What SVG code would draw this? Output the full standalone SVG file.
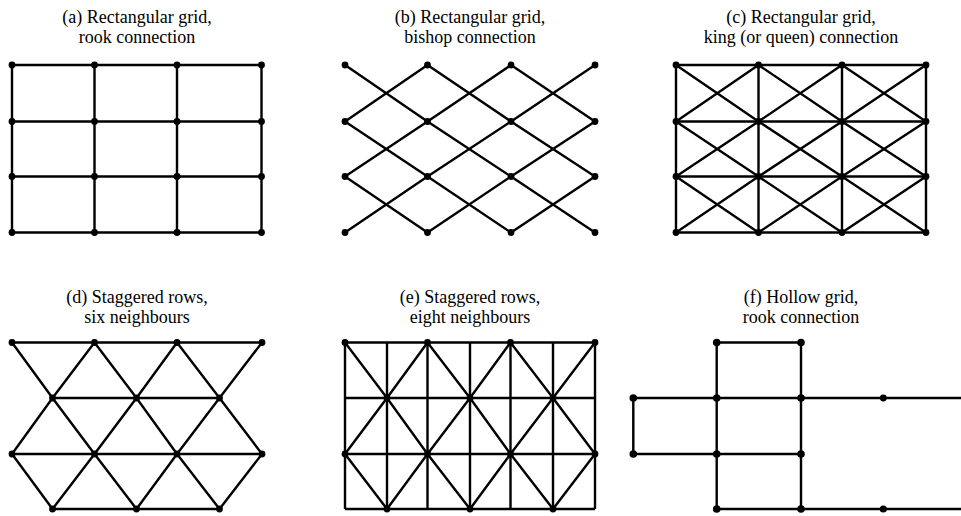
<svg xmlns="http://www.w3.org/2000/svg" width="961" height="516" viewBox="0 0 961 516">
<style>
.t{font-family:'Liberation Serif','Times New Roman',Times,serif;font-size:18px;fill:#000;text-anchor:middle}
.e{fill:none;stroke:#000;stroke-width:2.4;stroke-linejoin:round;stroke-linecap:butt}
.n{fill:#000}
</style>
<rect width="961" height="516" fill="#fff"/>

<!-- Titles -->
<g id="titles">
<text class="t" x="137" y="23">(a) Rectangular grid,</text>
<text class="t" x="137" y="43">rook connection</text>
<text class="t" x="470" y="23">(b) Rectangular grid,</text>
<text class="t" x="470" y="43">bishop connection</text>
<text class="t" x="801" y="23">(c) Rectangular grid,</text>
<text class="t" x="801" y="43">king (or queen) connection</text>
<text class="t" x="137" y="303">(d) Staggered rows,</text>
<text class="t" x="137" y="323">six neighbours</text>
<text class="t" x="470" y="303">(e) Staggered rows,</text>
<text class="t" x="470" y="323">eight neighbours</text>
<text class="t" x="801" y="303">(f) Hollow grid,</text>
<text class="t" x="801" y="323">rook connection</text>
</g>

<!-- Connectors -->
<g id="connectors">
<g id="edges-a">
<path class="e" d="M12 65H261.5M12 121.5H261.5M12 176.5H261.5M12 232.5H261.5"/>
<path class="e" d="M12 65V232.5M94.5 65V232.5M177 65V232.5M261.5 65V232.5"/>
</g>
<g id="edges-b">
<polyline class="e" points="345,65 427.5,121.5 511,176.5 595,232.5"/>
<polyline class="e" points="427.5,65 511,121.5 595,176.5"/>
<polyline class="e" points="511,65 595,121.5"/>
<polyline class="e" points="345,121.5 427.5,176.5 511,232.5"/>
<polyline class="e" points="345,176.5 427.5,232.5"/>
<polyline class="e" points="595,65 511,121.5 427.5,176.5 345,232.5"/>
<polyline class="e" points="511,65 427.5,121.5 345,176.5"/>
<polyline class="e" points="427.5,65 345,121.5"/>
<polyline class="e" points="595,121.5 511,176.5 427.5,232.5"/>
<polyline class="e" points="595,176.5 511,232.5"/>
</g>
<g id="edges-c">
<path class="e" d="M676 65H926M676 121.5H926M676 176.5H926M676 232.5H926"/>
<path class="e" d="M676 65V232.5M758.5 65V232.5M842 65V232.5M926 65V232.5"/>
<polyline class="e" points="676,65 758.5,121.5 842,176.5 926,232.5"/>
<polyline class="e" points="758.5,65 842,121.5 926,176.5"/>
<polyline class="e" points="842,65 926,121.5"/>
<polyline class="e" points="676,121.5 758.5,176.5 842,232.5"/>
<polyline class="e" points="676,176.5 758.5,232.5"/>
<polyline class="e" points="926,65 842,121.5 758.5,176.5 676,232.5"/>
<polyline class="e" points="842,65 758.5,121.5 676,176.5"/>
<polyline class="e" points="758.5,65 676,121.5"/>
<polyline class="e" points="926,121.5 842,176.5 758.5,232.5"/>
<polyline class="e" points="926,176.5 842,232.5"/>
</g>
<g id="edges-d">
<path class="e" d="M12 342.5H262M52.5 398H219.5M12 454H262M52.5 509H219.5"/>
<polyline class="e" points="12,342.5 52.5,398 94.5,454 136.5,509"/>
<polyline class="e" points="94.5,342.5 136.5,398 177,454 219.5,509"/>
<polyline class="e" points="177,342.5 219.5,398 262,454"/>
<polyline class="e" points="12,454 52.5,509"/>
<polyline class="e" points="262,342.5 219.5,398 177,454 136.5,509"/>
<polyline class="e" points="177,342.5 136.5,398 94.5,454 52.5,509"/>
<polyline class="e" points="94.5,342.5 52.5,398 12,454"/>
<polyline class="e" points="262,454 219.5,509"/>
</g>
<g id="edges-e">
<path class="e" d="M345 342.5H595M345 398H595M345 454H595M345 509H595"/>
<path class="e" d="M345 342.5V509M387 342.5V509M427.5 342.5V509M470 342.5V509M510.5 342.5V509M553 342.5V509M595 342.5V509"/>
<polyline class="e" points="345,342.5 387,398 427.5,454 470,509"/>
<polyline class="e" points="427.5,342.5 470,398 510.5,454 553,509"/>
<polyline class="e" points="510.5,342.5 553,398 595,454"/>
<polyline class="e" points="345,454 387,509"/>
<polyline class="e" points="595,342.5 553,398 510.5,454 470,509"/>
<polyline class="e" points="510.5,342.5 470,398 427.5,454 387,509"/>
<polyline class="e" points="427.5,342.5 387,398 345,454"/>
<polyline class="e" points="595,454 553,509"/>
</g>
<g id="edges-f">
<path class="e" d="M716.7 342.5H801M633.3 398H961M633.3 454H801M716.7 509H961"/>
<path class="e" d="M716.7 342.5V509M801 342.5V509M633.3 398V454"/>
</g>
</g>

<!-- Nodes -->
<g id="nodes-a">
<circle id="a00" class="n" cx="12" cy="65" r="3.4"/><circle id="a10" class="n" cx="94.5" cy="65" r="3.4"/><circle id="a20" class="n" cx="177" cy="65" r="3.4"/><circle id="a30" class="n" cx="261.5" cy="65" r="3.4"/>
<circle id="a01" class="n" cx="12" cy="121.5" r="3.4"/><circle id="a11" class="n" cx="94.5" cy="121.5" r="3.4"/><circle id="a21" class="n" cx="177" cy="121.5" r="3.4"/><circle id="a31" class="n" cx="261.5" cy="121.5" r="3.4"/>
<circle id="a02" class="n" cx="12" cy="176.5" r="3.4"/><circle id="a12" class="n" cx="94.5" cy="176.5" r="3.4"/><circle id="a22" class="n" cx="177" cy="176.5" r="3.4"/><circle id="a32" class="n" cx="261.5" cy="176.5" r="3.4"/>
<circle id="a03" class="n" cx="12" cy="232.5" r="3.4"/><circle id="a13" class="n" cx="94.5" cy="232.5" r="3.4"/><circle id="a23" class="n" cx="177" cy="232.5" r="3.4"/><circle id="a33" class="n" cx="261.5" cy="232.5" r="3.4"/>
</g>
<g id="nodes-b">
<circle id="b00" class="n" cx="345" cy="65" r="3.4"/><circle id="b10" class="n" cx="427.5" cy="65" r="3.4"/><circle id="b20" class="n" cx="511" cy="65" r="3.4"/><circle id="b30" class="n" cx="595" cy="65" r="3.4"/>
<circle id="b01" class="n" cx="345" cy="121.5" r="3.4"/><circle id="b11" class="n" cx="427.5" cy="121.5" r="3.4"/><circle id="b21" class="n" cx="511" cy="121.5" r="3.4"/><circle id="b31" class="n" cx="595" cy="121.5" r="3.4"/>
<circle id="b02" class="n" cx="345" cy="176.5" r="3.4"/><circle id="b12" class="n" cx="427.5" cy="176.5" r="3.4"/><circle id="b22" class="n" cx="511" cy="176.5" r="3.4"/><circle id="b32" class="n" cx="595" cy="176.5" r="3.4"/>
<circle id="b03" class="n" cx="345" cy="232.5" r="3.4"/><circle id="b13" class="n" cx="427.5" cy="232.5" r="3.4"/><circle id="b23" class="n" cx="511" cy="232.5" r="3.4"/><circle id="b33" class="n" cx="595" cy="232.5" r="3.4"/>
</g>
<g id="nodes-c">
<circle id="c00" class="n" cx="676" cy="65" r="3.4"/><circle id="c10" class="n" cx="758.5" cy="65" r="3.4"/><circle id="c20" class="n" cx="842" cy="65" r="3.4"/><circle id="c30" class="n" cx="926" cy="65" r="3.4"/>
<circle id="c01" class="n" cx="676" cy="121.5" r="3.4"/><circle id="c11" class="n" cx="758.5" cy="121.5" r="3.4"/><circle id="c21" class="n" cx="842" cy="121.5" r="3.4"/><circle id="c31" class="n" cx="926" cy="121.5" r="3.4"/>
<circle id="c02" class="n" cx="676" cy="176.5" r="3.4"/><circle id="c12" class="n" cx="758.5" cy="176.5" r="3.4"/><circle id="c22" class="n" cx="842" cy="176.5" r="3.4"/><circle id="c32" class="n" cx="926" cy="176.5" r="3.4"/>
<circle id="c03" class="n" cx="676" cy="232.5" r="3.4"/><circle id="c13" class="n" cx="758.5" cy="232.5" r="3.4"/><circle id="c23" class="n" cx="842" cy="232.5" r="3.4"/><circle id="c33" class="n" cx="926" cy="232.5" r="3.4"/>
</g>
<g id="nodes-d">
<circle id="d00" class="n" cx="12" cy="342.5" r="3.4"/><circle id="d10" class="n" cx="94.5" cy="342.5" r="3.4"/><circle id="d20" class="n" cx="177" cy="342.5" r="3.4"/><circle id="d30" class="n" cx="262" cy="342.5" r="3.4"/>
<circle id="d01" class="n" cx="52.5" cy="398" r="3.4"/><circle id="d11" class="n" cx="136.5" cy="398" r="3.4"/><circle id="d21" class="n" cx="219.5" cy="398" r="3.4"/>
<circle id="d02" class="n" cx="12" cy="454" r="3.4"/><circle id="d12" class="n" cx="94.5" cy="454" r="3.4"/><circle id="d22" class="n" cx="177" cy="454" r="3.4"/><circle id="d32" class="n" cx="262" cy="454" r="3.4"/>
<circle id="d03" class="n" cx="52.5" cy="509" r="3.4"/><circle id="d13" class="n" cx="136.5" cy="509" r="3.4"/><circle id="d23" class="n" cx="219.5" cy="509" r="3.4"/>
</g>
<g id="nodes-e">
<circle id="e00" class="n" cx="345" cy="342.5" r="3.4"/><circle id="e10" class="n" cx="427.5" cy="342.5" r="3.4"/><circle id="e20" class="n" cx="510.5" cy="342.5" r="3.4"/><circle id="e30" class="n" cx="595" cy="342.5" r="3.4"/>
<circle id="e01" class="n" cx="387" cy="398" r="3.4"/><circle id="e11" class="n" cx="470" cy="398" r="3.4"/><circle id="e21" class="n" cx="553" cy="398" r="3.4"/>
<circle id="e02" class="n" cx="345" cy="454" r="3.4"/><circle id="e12" class="n" cx="427.5" cy="454" r="3.4"/><circle id="e22" class="n" cx="510.5" cy="454" r="3.4"/><circle id="e32" class="n" cx="595" cy="454" r="3.4"/>
<circle id="e03" class="n" cx="387" cy="509" r="3.4"/><circle id="e13" class="n" cx="470" cy="509" r="3.4"/><circle id="e23" class="n" cx="553" cy="509" r="3.4"/>
</g>
<g id="nodes-f">
<circle id="f10" class="n" cx="716.7" cy="342.5" r="3.8"/><circle id="f20" class="n" cx="801" cy="342.5" r="3.8"/>
<circle id="f01" class="n" cx="633.3" cy="398" r="3.8"/><circle id="f11" class="n" cx="716.7" cy="398" r="3.8"/><circle id="f21" class="n" cx="801" cy="398" r="3.8"/><circle id="f31" class="n" cx="883.3" cy="398" r="3.4"/>
<circle id="f02" class="n" cx="633.3" cy="454" r="3.8"/><circle id="f12" class="n" cx="716.7" cy="454" r="3.8"/><circle id="f22" class="n" cx="801" cy="454" r="3.8"/>
<circle id="f13" class="n" cx="716.7" cy="509" r="3.8"/><circle id="f23" class="n" cx="801" cy="509" r="3.8"/><circle id="f33" class="n" cx="883.3" cy="509" r="3.6"/>
</g>
</svg>
